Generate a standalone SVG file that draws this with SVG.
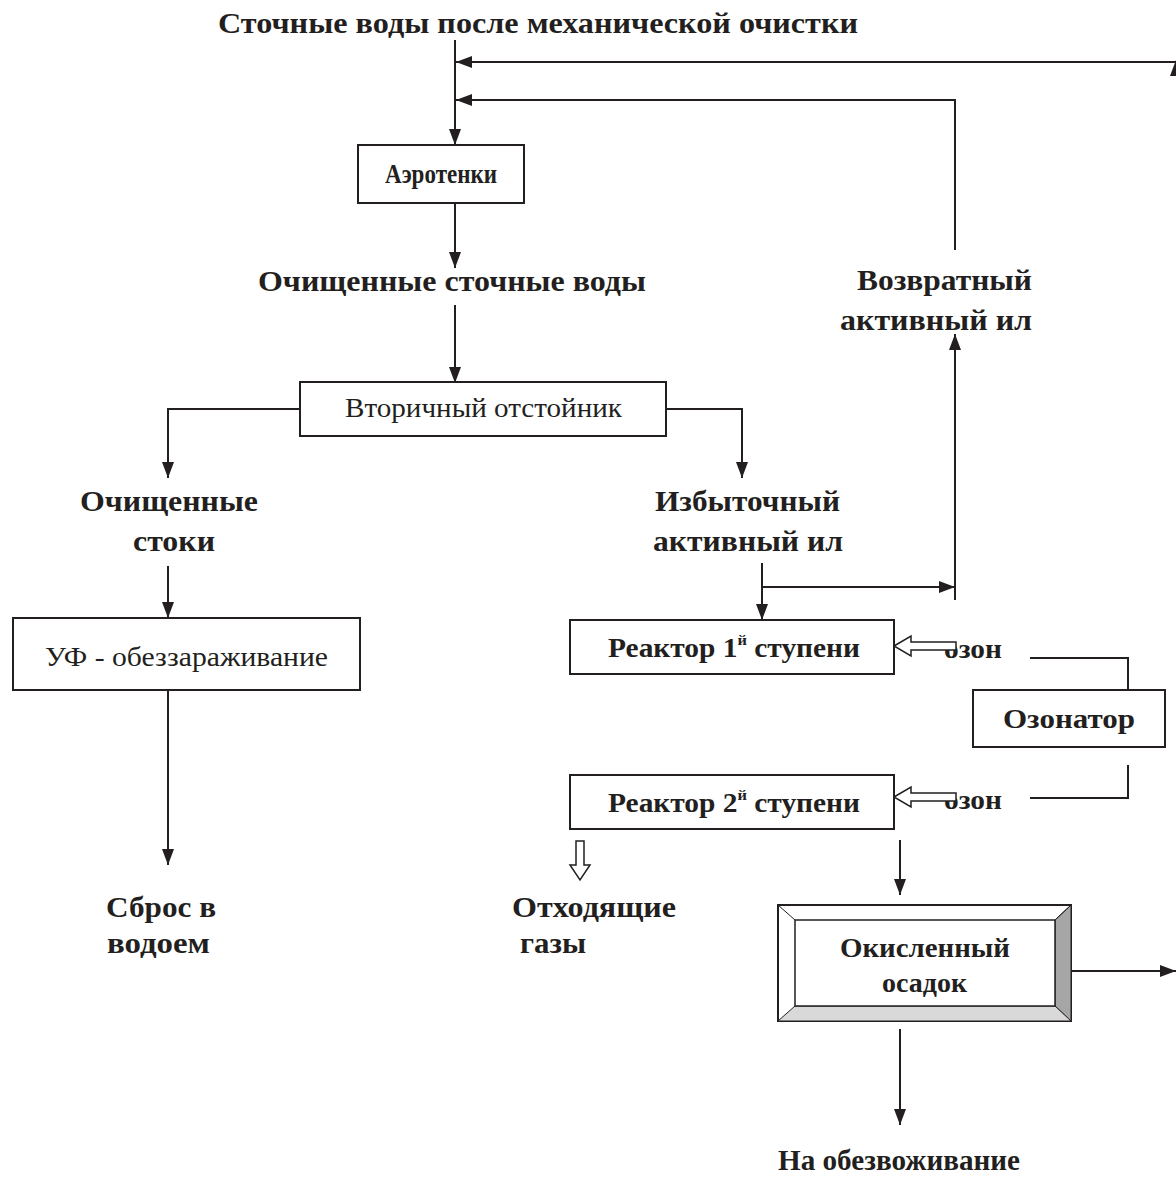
<svg xmlns="http://www.w3.org/2000/svg" width="1176" height="1177" viewBox="0 0 1176 1177">
<defs>
<marker id="ah" viewBox="0 0 16 12" refX="16" refY="6" markerWidth="16" markerHeight="12" markerUnits="userSpaceOnUse" orient="auto">
<path d="M0,0 L16,6 L0,12 Z" fill="#231f20"/>
</marker>
<style>
.b{font-family:"Liberation Serif","Times New Roman",serif;font-weight:bold;font-size:30px;fill:#231f20}
.bx{font-family:"Liberation Serif","Times New Roman",serif;font-weight:bold;font-size:27px;fill:#231f20}
.n{font-family:"Liberation Serif","Times New Roman",serif;font-size:27px;fill:#231f20}
.box{fill:#fff;stroke:#231f20;stroke-width:2}
.ln{fill:none;stroke:#231f20;stroke-width:2}
.ar{fill:none;stroke:#231f20;stroke-width:2;marker-end:url(#ah)}
.ho{fill:#fff;stroke:#231f20;stroke-width:1.5}
</style>
</defs>
<rect width="1176" height="1177" fill="#fff"/>

<g id="labels">
<text class="b" x="218" y="33" textLength="640" lengthAdjust="spacingAndGlyphs">Сточные воды после механической очистки</text>
<text class="b" x="258" y="291" textLength="388" lengthAdjust="spacingAndGlyphs">Очищенные сточные воды</text>
<text class="b" x="857" y="290" textLength="175" lengthAdjust="spacingAndGlyphs">Возвратный</text>
<text class="b" x="840" y="330" textLength="192" lengthAdjust="spacingAndGlyphs">активный ил</text>
<text class="b" x="80" y="511" textLength="178" lengthAdjust="spacingAndGlyphs">Очищенные</text>
<text class="b" x="133" y="551" textLength="82" lengthAdjust="spacingAndGlyphs">стоки</text>
<text class="b" x="655" y="511" textLength="185" lengthAdjust="spacingAndGlyphs">Избыточный</text>
<text class="b" x="653" y="551" textLength="190" lengthAdjust="spacingAndGlyphs">активный ил</text>
<text class="b" x="106" y="917" textLength="110" lengthAdjust="spacingAndGlyphs">Сброс в</text>
<text class="b" x="107" y="953" textLength="103" lengthAdjust="spacingAndGlyphs">водоем</text>
<text class="b" x="512" y="917" textLength="164" lengthAdjust="spacingAndGlyphs">Отходящие</text>
<text class="b" x="520" y="953" textLength="66" lengthAdjust="spacingAndGlyphs">газы</text>
<text class="b" x="778" y="1170" textLength="242" lengthAdjust="spacingAndGlyphs">На обезвоживание</text>
<text class="bx" x="944" y="658" textLength="58" lengthAdjust="spacingAndGlyphs">озон</text>
<text class="bx" x="944" y="809" textLength="58" lengthAdjust="spacingAndGlyphs">озон</text>
</g>

<g id="connectors">
<path class="ar" d="M455,40 V145"/>
<path class="ar" d="M1176,62 H456"/>
<path d="M1176,60 L1170,76 L1176,76 Z" fill="#231f20"/>
<path class="ar" d="M955,250 V100 H456"/>
<path class="ar" d="M455,204 V268"/>
<path class="ar" d="M455,305 V383"/>
<path class="ar" d="M300,409 H168 V478"/>
<path class="ar" d="M666,409 H742 V478"/>
<path class="ar" d="M168,566 V618"/>
<path class="ar" d="M168,691 V865"/>
<path class="ar" d="M762,563 V620"/>
<path class="ar" d="M762,587 H955"/>
<path class="ar" d="M955,600 V334"/>
<path class="ln" d="M1030,658 H1128 V690"/>
<path class="ln" d="M1128,765 V798 H1030"/>
<path class="ar" d="M900,840 V895"/>
<path class="ar" d="M1071,971 H1176"/>
<path class="ar" d="M900,1029 V1125"/>
<path class="ho" d="M894,646 L911,636 L911,642 L956,642 L956,650 L911,650 L911,656 Z"/>
<path class="ho" d="M894,797 L911,787 L911,793 L956,793 L956,801 L911,801 L911,807 Z"/>
<path class="ho" d="M576,841 L584,841 L584,865 L590,865 L580,880 L570,865 L576,865 Z"/>
</g>

<g id="aerotenki">
<rect class="box" x="358" y="145" width="166" height="58"/>
<text class="bx" x="385" y="183" textLength="112" lengthAdjust="spacingAndGlyphs">Аэротенки</text>
</g>

<g id="vtorichny">
<rect class="box" x="300" y="382" width="366" height="54"/>
<text class="n" x="345" y="417" textLength="277" lengthAdjust="spacingAndGlyphs">Вторичный отстойник</text>
</g>

<g id="uf">
<rect class="box" x="13" y="618" width="347" height="72"/>
<text class="n" x="45" y="666" textLength="283" lengthAdjust="spacingAndGlyphs">УФ - обеззараживание</text>
</g>

<g id="reactor1">
<rect class="box" x="570" y="620" width="324" height="54"/>
<text class="bx" x="608" y="657" textLength="252" lengthAdjust="spacingAndGlyphs">Реактор 1<tspan font-size="15" dy="-12">й</tspan><tspan dy="12"> ступени</tspan></text>
</g>

<g id="ozonator">
<rect class="box" x="973" y="690" width="192" height="57"/>
<text class="bx" x="1003" y="728" textLength="132" lengthAdjust="spacingAndGlyphs">Озонатор</text>
</g>

<g id="reactor2">
<rect class="box" x="570" y="775" width="324" height="54"/>
<text class="bx" x="608" y="812" textLength="252" lengthAdjust="spacingAndGlyphs">Реактор 2<tspan font-size="15" dy="-12">й</tspan><tspan dy="12"> ступени</tspan></text>
</g>

<g id="osadok">
<rect x="778" y="905" width="293" height="116" fill="#fff" stroke="#231f20" stroke-width="2"/>
<path d="M1071,905 L1055,920 L1055,1006 L1071,1021 Z" fill="#a6a6a6" stroke="#231f20" stroke-width="1"/>
<path d="M778,1021 L795,1006 L1055,1006 L1071,1021 Z" fill="#d9d9d9" stroke="#231f20" stroke-width="1"/>
<path d="M778,905 L795,920 M1071,905 L1055,920" stroke="#231f20" stroke-width="1"/>
<rect x="795" y="920" width="260" height="86" fill="#fff" stroke="#231f20" stroke-width="1.5"/>
<text class="bx" x="840" y="957" textLength="170" lengthAdjust="spacingAndGlyphs">Окисленный</text>
<text class="bx" x="882" y="992" textLength="85" lengthAdjust="spacingAndGlyphs">осадок</text>
</g>
</svg>
